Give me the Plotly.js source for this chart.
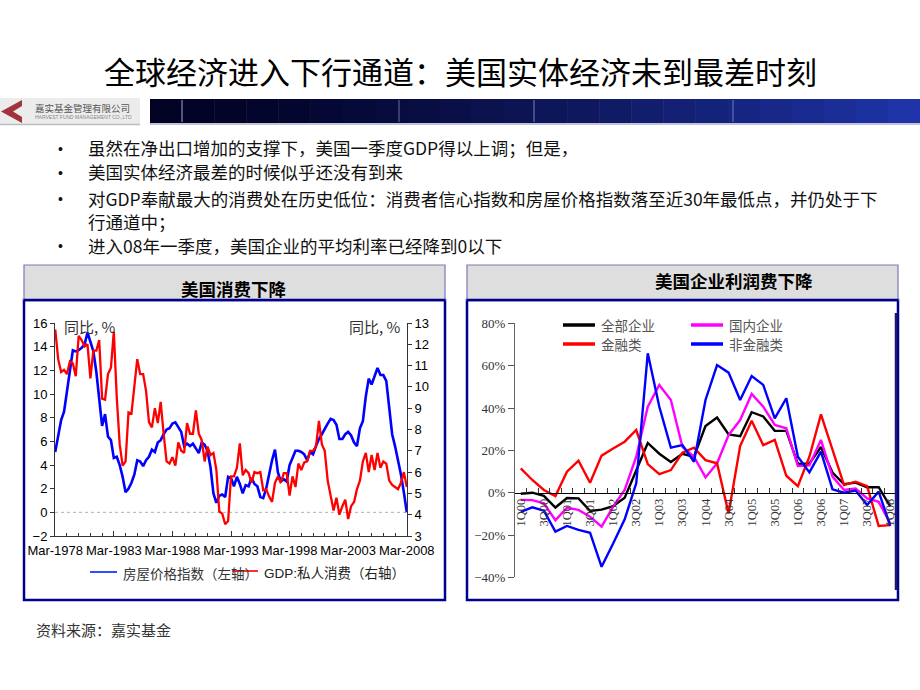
<!DOCTYPE html>
<html><head><meta charset="utf-8">
<script src="https://cdn.plot.ly/plotly-3.0.1.min.js"></script>
<style>html,body{margin:0;padding:0;background:#fff}#chart{width:920px;height:690px}</style>
</head><body><div id="chart"></div>
<script>
const W = 920, H = 690;
const px = x => x / W, py = y => 1 - y / H;

// ---------- Left chart: 美国消费下降 (quarterly, Mar-1978 .. Mar-2008) ----------
const leftStartYear = 1978;
const houseIndex = [
  5.1,6.3,7.8,8.5,10.1,11.9,13.7,13.6,13.7,13.9,
  14.2,15.2,14.3,13.6,11.9,9.6,7.3,8.3,6.4,6.1,
  4.6,4.7,4.0,3.0,1.7,2.0,2.5,3.2,4.4,4.3,
  3.9,4.4,4.7,5.3,5.1,5.9,6.1,6.6,7.0,7.1,
  7.5,7.6,7.2,6.8,5.6,5.8,5.6,5.8,5.4,5.0,
  5.9,5.7,5.2,3.8,1.6,0.8,1.4,1.5,1.3,3.0,
  2.9,2.2,3.0,2.4,1.6,2.3,2.2,2.9,2.4,2.2,
  1.3,1.2,2.0,3.3,4.4,5.3,3.4,2.6,2.8,2.6,
  4.0,4.6,5.2,5.2,5.1,4.9,4.4,5.1,4.9,5.6,
  6.2,6.6,7.1,7.5,7.9,7.8,7.4,6.2,6.2,6.6,
  6.8,6.5,5.9,5.6,7.1,7.7,9.8,11.3,10.8,11.5,
  12.2,11.6,11.6,11.1,9.0,6.6,5.6,4.4,3.2,1.7,
  0.0
];
const gdpConsumption = [
  12.7,11.3,10.7,10.8,10.6,11.2,11.1,10.5,12.4,12.2,
  11.9,12.0,10.4,11.7,11.7,12.2,9.45,9.4,10.6,10.9,
  12.6,9.5,7.3,6.3,6.5,8.8,8.75,10.15,11.3,10.6,
  10.6,9.8,8.35,8.1,9.0,8.3,9.3,7.8,6.5,6.4,
  6.7,6.3,7.4,7.0,6.9,8.3,7.8,7.8,8.9,7.8,
  7.5,6.5,7.2,6.8,6.9,6.1,4.15,4.05,3.55,3.7,
  5.8,5.8,6.2,7.35,5.85,6.1,5.95,5.5,6.0,5.95,
  6.0,5.15,5.2,4.85,4.6,5.5,5.8,5.5,5.95,5.95,
  4.9,5.8,5.3,6.4,6.1,6.45,6.5,7.0,7.0,7.2,
  8.4,7.3,7.0,5.6,4.9,4.2,4.8,4.0,4.4,4.7,
  3.8,4.4,4.6,5.2,5.6,6.5,6.9,6.0,6.8,6.1,
  6.9,6.2,6.5,6.4,5.6,5.4,5.3,5.2,5.5,6.0,
  5.3
];
const leftSeriesNames = ['房屋价格指数（左轴）', 'GDP:私人消费（右轴）'];
const leftAxisUnit = '同比, %';

// ---------- Right chart: 美国企业利润费下降 (1Q00 .. 1Q08) ----------
const quarters = ['1Q00','2Q00','3Q00','4Q00','1Q01','2Q01','3Q01','4Q01','1Q02','2Q02','3Q02','4Q02',
  '1Q03','2Q03','3Q03','4Q03','1Q04','2Q04','3Q04','4Q04','1Q05','2Q05','3Q05','4Q05',
  '1Q06','2Q06','3Q06','4Q06','1Q07','2Q07','3Q07','4Q07','1Q08'];
const allCorp = [-0.5,0,-1.5,-7,-2.5,-2.7,-8.6,-8,-6.4,-2.4,10.5,23.5,18.4,14.5,18.4,17,31.5,35.5,27.5,26.7,38,36,29.2,29.2,13.6,13.8,21.6,9.5,4,4.8,2.6,2.6,-6.5];
const domesticCorp = [-3.4,-3.5,-5,-13,-7.1,-8.1,-11.3,-16,-6.6,1.3,17,40.6,50.9,43.8,21.7,17,7.2,13.9,27.2,34.3,46.6,40.6,32,30.4,12.6,12.9,24.9,7.6,1.3,2,-2.7,-4.3,-14.5];
const financialCorp = [11.5,6,1.3,-1.6,9.9,15.1,4.7,17.5,20.9,24.1,29.6,13.5,8.8,10.7,18.9,21.3,15.4,13.9,-9.8,22,34,22.5,24.9,8,3.1,17,37,20.2,3.6,5.2,3.1,-15.7,-15.3];
const nonFinancialCorp = [-9,-6.9,-8.5,-18.4,-15.7,-17.6,-18.9,-35,-24,-12.6,4.4,65.8,40.6,21.3,22.5,14.6,43.8,60.3,56.7,43.8,55.1,50.9,35.1,44.6,17,9.6,19.4,1.6,0,1,-5.8,0.5,-15.7];
const rightSeriesNames = ['全部企业','国内企业','金融类','非金融类'];
const rightSeries = [allCorp, domesticCorp, financialCorp, nonFinancialCorp];
const rightColors = ['#000000','#ff00ff','#ff0000','#0000ff'];

// ---------- Text ----------
const pageTitle = '全球经济进入下行通道：美国实体经济未到最差时刻';
const bullets = [
  ['虽然在净出口增加的支撑下，美国一季度GDP得以上调；但是，'],
  ['美国实体经济最差的时候似乎还没有到来'],
  ['对GDP奉献最大的消费处在历史低位：消费者信心指数和房屋价格指数落至近30年最低点，并仍处于下', '行通道中；'],
  ['进入08年一季度，美国企业的平均利率已经降到0以下']
];
const leftPanelTitle = '美国消费下降';
const rightPanelTitle = '美国企业利润费下降';
const sourceText = '资料来源：嘉实基金';
const logoCn = '嘉实基金管理有限公司';
const logoEn = 'HARVEST FUND MANAGEMENT CO.,LTD';

// quarterly dates for the left chart
const dates = houseIndex.map((_, i) => {
  const m = 3 + 3 * i;
  const y = leftStartYear + Math.floor((m - 1) / 12);
  const mm = ((m - 1) % 12) + 1;
  return y + '-' + String(mm).padStart(2, '0') + '-01';
});

const CJK = 'Noto Sans CJK SC';
const traces = [
  {x: dates, y: houseIndex, name: leftSeriesNames[0], type: 'scatter', mode: 'lines',
   xaxis: 'x', yaxis: 'y', line: {color: '#0000ff', width: 2.6}},
  {x: dates, y: gdpConsumption, name: leftSeriesNames[1], type: 'scatter', mode: 'lines',
   xaxis: 'x', yaxis: 'y2', line: {color: '#ff0000', width: 2.3}}
];
rightSeries.forEach((s, i) => traces.push({
  x: quarters, y: s, name: rightSeriesNames[i], type: 'scatter', mode: 'lines',
  xaxis: 'x2', yaxis: 'y3', line: {color: rightColors[i], width: 2.4}
}));

// ---------- Geometry ----------
const rYd = [py(577.4), py(323.3)];
const rYrange = [-40, 80];
const x2pos = rYd[0] + (0 - rYrange[0]) / (rYrange[1] - rYrange[0]) * (rYd[1] - rYd[0]);

const shapes = [];
const rect = (x0, y0, x1, y1, fill, lc, lw, layer) => shapes.push({type: 'rect', xref: 'paper', yref: 'paper',
  x0: px(x0), x1: px(x1), y0: py(y1), y1: py(y0), fillcolor: fill, line: {color: lc || 'rgba(0,0,0,0)', width: lw || 0}, layer: layer || 'below'});
const hline = (x0, x1, y, color, w, dash) => shapes.push({type: 'line', xref: 'paper', yref: 'paper',
  x0: px(x0), x1: px(x1), y0: py(y), y1: py(y), line: {color: color, width: w, dash: dash || 'solid'}});
const vline = (x, y0, y1, color, w) => shapes.push({type: 'line', xref: 'paper', yref: 'paper',
  x0: px(x), x1: px(x), y0: py(y0), y1: py(y1), line: {color: color, width: w}});

// logo
rect(0, 98, 140, 125, '#ececec');
hline(0, 140, 124.5, '#bdbdbd', 1.5);
const chev = [[22,100],[1,111.5],[22,123],[22,117],[13,111.5],[22,106]];
shapes.push({type: 'path', xref: 'paper', yref: 'paper', layer: 'below',
  path: 'M' + chev.map(p => px(p[0]) + ',' + py(p[1])).join(' L') + ' Z',
  fillcolor: '#a3323c', line: {width: 0}});
// header bar (stepped gradient)
const barL = 150, barR = 920, steps = 24;
const c0 = [2, 2, 36], c1 = [30, 52, 168];
for (let i = 0; i < steps; i++) {
  const t = i / (steps - 1);
  const c = c0.map((v, k) => Math.round(v + (c1[k] - v) * Math.pow(t, 1.4)));
  rect(barL + (barR - barL) * i / steps, 99, barL + (barR - barL) * (i + 1) / steps + 0.5, 123, 'rgb(' + c.join(',') + ')');
}
[[182, 0.45], [399, 0.3], [534, 0.35], [733, 0.3]].forEach(v => vline(v[0], 100, 122, 'rgba(170,180,230,' + v[1] + ')', 2));
hline(barL, barR, 124, '#c0c4d8', 2);

// panels
[[24, 445], [467, 898]].forEach(p => {
  rect(p[0], 300, p[1], 600, '#ffffff', '#00008b', 2.5);
  rect(p[0], 265, p[1], 300, '#dedede', '#7a7ab8', 1.2);
  hline(p[0], p[1], 300, '#00008b', 2.5);
});
// left zero line (dotted)
shapes.push({type: 'line', xref: 'x domain', yref: 'y', x0: 0, x1: 1, y0: 0, y1: 0,
  line: {color: '#b0b0b0', width: 1, dash: 'dot'}, layer: 'below'});
// right chart frame line
vline(896, 313, 590, '#1a1a70', 2.5);

// legends
const annotations = [];
const txt = (x, y, text, size, opts) => annotations.push(Object.assign({xref: 'paper', yref: 'paper',
  x: px(x), y: py(y), text: text, showarrow: false, xanchor: 'left', yanchor: 'middle',
  font: {family: CJK, size: size, color: '#000'}}, opts || {}));

hline(90, 117, 572, '#3050ff', 2);
txt(121, 573, leftSeriesNames[0], 13.5, {font: {family: 'Noto Sans CJK SC', size: 13.5, color: '#333'}});
hline(232, 258, 571, '#ff3030', 2);
txt(262, 573, leftSeriesNames[1], 13.5, {font: {family: 'Liberation Sans, Noto Sans CJK SC', size: 13.5, color: '#222'}});

const legPos = [[563, 325], [691, 325], [563, 344], [691, 344]];
rightSeriesNames.forEach((n, i) => {
  hline(legPos[i][0], legPos[i][0] + 32, legPos[i][1], rightColors[i], 3.5);
  txt(legPos[i][0] + 36, legPos[i][1], n, 13.5, {font: {family: CJK, size: 13.5, color: '#555'}});
});

// page text
txt(460, 70, pageTitle, 31, {xanchor: 'center', font: {family: CJK, size: 31, color: '#000'}});
txt(33, 108.5, logoCn, 9.5, {font: {family: CJK, size: 9.5, color: '#555'}});
txt(33, 117, logoEn, 5, {font: {family: 'Liberation Sans', size: 5, color: '#888'}});
const bulletY = [149, 173, 199, 246];
bullets.forEach((lines, i) => {
  txt(60, bulletY[i], '•', 14, {xanchor: 'center', font: {family: 'Liberation Sans', size: 14, color: '#111'}});
  txt(87, bulletY[i], lines.join('<br>'), 17.5, {yanchor: 'top', align: 'left',
    yshift: 14.5, borderpad: 0, font: {family: CJK, size: 17.5, color: '#111'}});
});
txt(234, 288, leftPanelTitle, 17.5, {xanchor: 'center', font: {family: CJK, size: 17.5, color: '#000', weight: 'bold'}});
txt(734, 280, rightPanelTitle, 17.5, {xanchor: 'center', font: {family: CJK, size: 17.5, color: '#000', weight: 'bold'}});
txt(62, 326, leftAxisUnit, 15, {font: {family: 'Noto Sans CJK SC', size: 15, color: '#333'}});
txt(403, 326, leftAxisUnit, 15, {xanchor: 'right', font: {family: 'Noto Sans CJK SC', size: 15, color: '#333'}});
txt(34, 629, sourceText, 15, {font: {family: CJK, size: 15, color: '#333'}});

const axFont = {family: 'Liberation Sans, Arial', size: 13, color: '#000'};
const layout = {
  width: W, height: H, margin: {l: 0, r: 0, t: 0, b: 0},
  paper_bgcolor: '#ffffff', plot_bgcolor: 'rgba(0,0,0,0)', showlegend: false,
  xaxis: {domain: [px(55), px(407)], anchor: 'y', type: 'date',
    range: ['1978-02-22', '2008-03-08'], tick0: '1978-03-01', dtick: 'M60', tickformat: '%b-%Y',
    ticks: 'inside', ticklen: 5, tickcolor: '#333', showline: true, linecolor: '#333', linewidth: 1,
    ticklabelstandoff: 2,
    showgrid: false, zeroline: false, tickfont: axFont,
    minor: {dtick: 'M12', tick0: '1978-03-01', ticks: 'inside', ticklen: 3, tickcolor: '#333', showgrid: false}},
  yaxis: {domain: [py(536), py(323)], anchor: 'x', range: [-2, 16], dtick: 2,
    ticks: 'outside', ticklen: 4, tickcolor: '#333', showline: true, linecolor: '#333', linewidth: 1,
    showgrid: false, zeroline: false, tickfont: axFont},
  yaxis2: {overlaying: 'y', side: 'right', anchor: 'x', range: [3, 13], dtick: 1,
    ticks: 'outside', ticklen: 4, tickcolor: '#333', showline: true, linecolor: '#333', linewidth: 1,
    showgrid: false, zeroline: false, tickfont: axFont},
  xaxis2: {domain: [px(515), px(896)], anchor: 'free', position: x2pos, type: 'category',
    range: [-0.5, quarters.length - 0.5], tickmode: 'array', tickvals: quarters,
    ticktext: quarters.map((q, i) => i % 2 === 0 ? q : ''), tickson: 'boundaries',
    ticks: 'inside', ticklen: 5, tickcolor: '#333', tickangle: -90,
    showline: true, linecolor: '#000', linewidth: 1, showgrid: false, zeroline: false,
    tickfont: {family: 'Liberation Serif', size: 12.5, color: '#333'}},
  yaxis3: {domain: rYd, anchor: 'x2', range: rYrange, dtick: 20, ticksuffix: '%',
    ticks: 'outside', ticklen: 6, tickcolor: '#555', showline: true, linecolor: '#666', linewidth: 1,
    showgrid: false, zeroline: false, tickfont: {family: 'Liberation Serif', size: 13, color: '#333'}},
  shapes: shapes, annotations: annotations
};
Plotly.newPlot('chart', traces, layout, {displayModeBar: false, staticPlot: true});
</script></body></html>
